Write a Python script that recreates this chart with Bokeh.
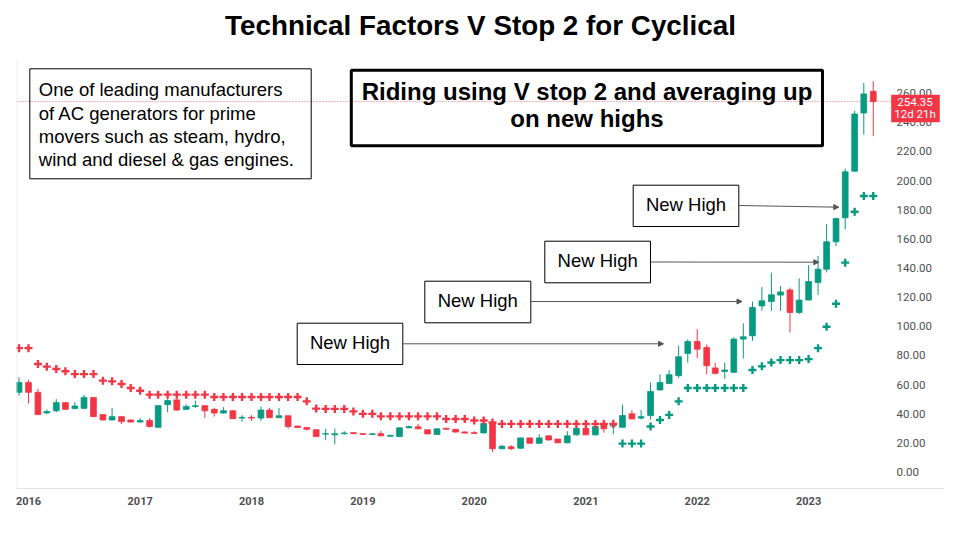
import pandas as pd
from bokeh.plotting import figure
from bokeh.models import (Range1d, FixedTicker, NumeralTickFormatter, DatetimeTickFormatter,
                          LinearAxis, ColumnDataSource, BoxAnnotation, Label, Arrow, NormalHead)
from bokeh.embed import file_html
from bokeh.resources import INLINE

# ---------------- data (monthly candles, Dec 2015 .. Aug 2023) ----------------
first_month = "2015-12-01"

opens = [54.7, 61.5, 54.7, 40.5, 42.0, 47.6, 43.5, 43.7, 51.2, 39.4, 35.7, 38.0, 35.7,
         34.3, 35.3, 30.7, 46.2, 49.5, 43.0, 45.0, 45.5, 43.0, 40.5, 42.0, 37.0,
         37.5, 37.0, 42.5, 37.3, 38.6, 31.5, 30.5, 29.0, 26.0, 25.5, 26.3, 27.0,
         26.3, 25.8, 26.3, 24.6, 24.3, 30.3, 31.0, 29.0, 25.7, 30.0, 29.3, 27.5,
         27.0, 26.8, 34.0, 16.0, 17.3, 16.3, 23.4, 19.7, 24.8, 22.6, 20.0, 25.5,
         30.0, 25.5, 33.0, 31.5, 30.7, 39.9, 37.0, 38.7, 56.3, 60.8, 66.1, 81.4,
         89.6, 85.5, 71.4, 69.0, 68.4, 91.2, 93.5, 114.0, 117.0, 121.4, 125.0, 109.5,
         118.0, 130.0, 139.2, 158.0, 174.5, 206.5, 246.4, 261.3]

highs = [65.0, 63.3, 57.0, 43.0, 50.0, 47.8, 48.0, 53.0, 51.5, 39.6, 44.0, 38.5, 36.0,
         37.0, 37.0, 46.0, 50.0, 50.0, 46.5, 49.0, 46.0, 44.0, 44.5, 42.5, 39.0,
         39.0, 45.0, 44.0, 44.0, 38.6, 31.8, 30.8, 29.2, 29.6, 29.8, 28.0, 27.5,
         26.8, 26.8, 28.3, 25.5, 30.6, 31.8, 33.0, 29.2, 30.0, 30.3, 29.5, 27.8,
         28.0, 35.3, 34.3, 18.5, 18.5, 23.6, 23.8, 26.0, 25.0, 22.8, 28.0, 30.3,
         30.5, 31.5, 33.4, 36.0, 46.2, 42.5, 42.5, 61.5, 67.0, 70.0, 86.6, 91.0,
         98.0, 87.5, 75.0, 75.0, 92.4, 102.0, 117.0, 127.0, 136.8, 127.7, 126.6, 133.0,
         142.0, 148.3, 170.0, 174.5, 208.3, 248.0, 267.0, 268.2]

lows = [52.4, 47.0, 39.0, 40.0, 41.0, 42.8, 43.0, 43.0, 38.0, 35.5, 35.5, 33.0, 34.0,
        33.8, 30.5, 30.3, 41.0, 42.0, 42.5, 44.0, 37.0, 38.0, 40.0, 36.4, 34.5,
        35.0, 35.0, 37.0, 37.0, 29.7, 30.2, 28.5, 24.0, 22.0, 19.0, 25.5, 26.0,
        25.5, 25.5, 24.6, 24.0, 24.0, 30.0, 29.4, 26.0, 25.5, 29.0, 27.2, 26.5,
        26.3, 26.5, 13.6, 15.6, 15.0, 16.0, 19.5, 19.5, 21.5, 19.8, 19.8, 25.0,
        25.2, 25.0, 27.0, 26.0, 30.5, 36.2, 36.0, 36.0, 56.0, 60.3, 64.5, 75.0,
        78.0, 67.0, 67.0, 64.0, 68.0, 78.0, 90.0, 110.6, 110.6, 110.6, 95.8, 108.3,
        118.0, 121.6, 137.0, 155.0, 166.6, 206.0, 231.6, 230.5]

closes = [61.5, 54.7, 39.4, 41.5, 47.6, 43.0, 45.3, 51.2, 38.0, 35.7, 38.0, 34.6, 34.3,
          35.3, 31.2, 45.5, 49.0, 42.5, 45.0, 45.5, 42.0, 40.5, 42.0, 36.6, 37.5,
          37.0, 42.5, 37.3, 38.6, 31.2, 30.5, 29.3, 24.3, 26.3, 26.3, 26.8, 26.3,
          25.8, 26.2, 24.8, 25.2, 30.3, 31.2, 29.6, 26.1, 29.6, 29.3, 27.4, 26.7,
          26.5, 33.4, 16.0, 17.7, 16.0, 23.4, 19.7, 23.4, 22.0, 20.0, 24.8, 30.0,
          25.5, 31.2, 29.6, 32.0, 38.7, 36.4, 38.0, 55.3, 61.5, 66.8, 79.1, 89.6,
          84.3, 72.9, 67.7, 70.0, 91.2, 92.8, 112.9, 117.5, 121.6, 123.6, 109.5, 118.0,
          130.7, 139.2, 158.0, 174.0, 206.0, 245.7, 259.5, 254.35]

vstop = [85.0, 85.0, 74.1, 72.3, 70.7, 69.1, 67.2, 67.2, 67.2, 62.7, 62.2, 60.4, 57.7,
         55.8, 53.1, 53.1, 53.1, 53.1, 53.1, 53.1, 53.1, 51.5, 51.5, 51.5, 51.5,
         51.5, 51.5, 51.5, 51.5, 51.5, 51.5, 48.5, 43.5, 43.3, 43.3, 43.3, 41.6,
         39.9, 39.9, 38.2, 38.2, 38.2, 38.2, 38.2, 38.2, 38.2, 36.4, 36.4, 36.4,
         35.3, 35.3, 34.0, 33.0, 33.0, 33.0, 33.0, 33.0, 33.0, 33.0, 33.0, 33.0,
         33.0, 33.0, 33.0, 33.0, 19.5, 19.5, 19.5, 31.2, 35.7, 39.2, 48.5, 57.7,
         57.7, 57.7, 57.7, 57.7, 57.7, 57.7, 70.0, 72.5, 75.2, 76.8, 76.8, 76.8,
         77.5, 85.0, 99.7, 115.5, 143.7, 178.6, 189.4, 189.4]

year_ticks = [2016, 2017, 2018, 2019, 2020, 2021, 2022, 2023]
price_ticks = [0, 20, 40, 60, 80, 100, 120, 140, 160, 180, 200, 220, 240, 260]
last_price = 254.35
countdown = "12d 21h"

title_text = "Technical Factors V Stop 2 for Cyclical"
info_lines = ["One of leading manufacturers", "of AC generators for prime",
              "movers such as steam, hydro,", "wind and diesel & gas engines."]
strategy_lines = ["Riding using V stop 2 and averaging up", "on new highs"]
note_text = "New High"

UP = "#089981"
DOWN = "#f23645"

# ---------------- build source ----------------
months = pd.date_range(first_month, periods=len(opens), freq="MS")
colors = [UP if c >= o else DOWN for o, c in zip(opens, closes)]
vcolors = [DOWN if s > c else UP for s, c in zip(vstop, closes)]
src = ColumnDataSource(dict(
    x=months, open=opens, high=highs, low=lows, close=closes,
    top=[max(o, c) for o, c in zip(opens, closes)],
    bottom=[min(o, c) for o, c in zip(opens, closes)],
    color=colors, vstop=vstop, vcolor=vcolors))

# ---------------- figure geometry (page pixels) ----------------
W, H = 944, 524
FX, FY = 16, 488          # frame left / bottom on the page
PX_PER_DAY = 0.30508
PX_PER_UNIT = 1.457
ZERO_Y = 471.5            # page y of price 0
DAY = 86400000.0

x_start = pd.Timestamp("2016-01-01").value / 1e6 - (28 - FX) / PX_PER_DAY * DAY
x_end = x_start + (W - FX) / PX_PER_DAY * DAY
y_bottom = (ZERO_Y - FY) / PX_PER_UNIT
y_top = ZERO_Y / PX_PER_UNIT


def page_x_to_data(X):
    return x_start + (X - FX) / PX_PER_DAY * DAY


p = figure(width=W, height=H, x_axis_type="datetime", y_axis_location=None,
           output_backend="svg", toolbar_location=None,
           x_range=Range1d(x_start, x_end), y_range=Range1d(y_bottom, y_top),
           min_border_left=FX, min_border_right=0, min_border_top=0, min_border_bottom=H - FY)
p.outline_line_color = None
p.background_fill_color = "white"
p.border_fill_color = "white"
p.xgrid.visible = False
p.ygrid.visible = False

# price scale (drawn at the chart's right edge)
ya = LinearAxis(fixed_location=page_x_to_data(886))
ya.ticker = FixedTicker(ticks=price_ticks)
ya.formatter = NumeralTickFormatter(format="0.00")
ya.axis_line_color = None
ya.major_tick_line_color = None
ya.minor_tick_line_color = None
ya.major_tick_out = 0
ya.major_tick_in = 0
ya.minor_tick_out = 0
ya.major_label_standoff = 10
ya.major_label_text_font = "Roboto"
ya.major_label_text_font_size = "11.5px"
ya.major_label_text_color = "#505050"
p.add_layout(ya, "right")

# time scale
xa = p.xaxis[0]
xa.ticker = FixedTicker(ticks=[pd.Timestamp(f"{y}-01-01").value / 1e6 for y in year_ticks])
xa.formatter = DatetimeTickFormatter(years="%Y", months="%Y", days="%Y", hours="%Y")
xa.axis_line_color = "#e0e3eb"
xa.major_tick_line_color = None
xa.minor_tick_line_color = None
xa.major_tick_out = 0
xa.major_tick_in = 0
xa.minor_tick_out = 0
xa.major_label_standoff = 8
xa.major_label_text_font = "Roboto"
xa.major_label_text_font_style = "bold"
xa.major_label_text_font_size = "11px"
xa.major_label_text_color = "#505050"

# last price dotted line (up to the price tag)
p.segment(x0=[x_start], y0=[last_price], x1=[page_x_to_data(890)], y1=[last_price],
          line_color=DOWN, line_dash="1 2", line_width=1, line_alpha=0.8)

# candles
p.segment(x0="x", y0="low", x1="x", y1="high", source=src, line_color="color", line_width=1)
p.vbar(x="x", width=19 * DAY, top="top", bottom="bottom", source=src,
       fill_color="color", line_color="color", line_width=0.8)
# volatility stop
p.scatter(x="x", y="vstop", source=src, marker="cross", size=8,
          line_color="vcolor", line_width=2.4)


# ---------------- annotations (screen coordinates from frame bottom-left) ----------------
def sx(X):
    return X - FX


def sy(Y):
    return FY - Y


FONT = "Liberation Sans"


def text(X, Y, t, size, bold=False, align="left", color="black", font=FONT):
    # Y is the wanted baseline on the page; Bokeh's anchor sits ~0.4em lower
    fs = float(size.replace("px", ""))
    p.add_layout(Label(x=sx(X), y=sy(Y - 0.4 * fs), x_units="screen", y_units="screen", text=t,
                       text_font=font, text_font_size=size,
                       text_font_style="bold" if bold else "normal",
                       text_align=align, text_baseline="alphabetic", text_color=color))


def box(L, T, R, B, lw=1, fill=None, line="black"):
    p.add_layout(BoxAnnotation(left=sx(L), right=sx(R), top=sy(T), bottom=sy(B),
                               left_units="screen", right_units="screen",
                               top_units="screen", bottom_units="screen",
                               fill_color=fill, fill_alpha=1 if fill else 0,
                               line_color=line, line_width=lw, line_alpha=1 if line else 0))


# left edge of the chart picture
box(16, 60, 16.8, 488, fill="#e4e4e4", line=None)

# title
text(480, 36.5, title_text, "27.8px", bold=True, align="center")

# company description box
box(29.3, 68.3, 310.7, 178.3)
for ln, by in zip(info_lines, [96.7, 120.0, 143.3, 166.7]):
    text(38.3, by, ln, "18.5px")

# strategy box
box(350.8, 69.8, 822.0, 145.2, lw=3)
for ln, by in zip(strategy_lines, [101.0, 127.5]):
    text(586.5, by, ln, "24px", bold=True, align="center")

# "New High" notes with arrows
notes = [  # box left, top, right, bottom, arrow y0, arrow x1, arrow y1
    (296.7, 322.7, 402.3, 364.0, 343.3, 663.0, 343.3),
    (424.3, 280.7, 530.3, 322.3, 301.0, 741.5, 301.0),
    (544.3, 240.7, 650.0, 282.3, 261.5, 818.3, 261.7),
    (632.7, 184.7, 738.3, 226.0, 205.0, 838.3, 206.7),
]
for L, T, R, B, ay0, ax1, ay1 in notes:
    box(L, T, R, B)
    text((L + R) / 2, (T + B) / 2 + 6, note_text, "18.5px", align="center")
    p.add_layout(Arrow(x_start=sx(R), y_start=sy(ay0), x_end=sx(ax1), y_end=sy(ay1),
                       start_units="screen", end_units="screen",
                       line_color="#555555", line_width=1,
                       end=NormalHead(size=5, fill_color="#555555", line_color="#555555")))

# last price tag on the price scale
box(890.7, 94.3, 939.3, 121.7, fill=DOWN, line=None)
text(914.5, 106.0, f"{last_price:.2f}", "11.5px", align="center", color="white", font="Roboto")
text(914.5, 118.3, countdown, "11.5px", align="center", color="white", font="Roboto")

open("out.html", "w").write(file_html(p, INLINE))
